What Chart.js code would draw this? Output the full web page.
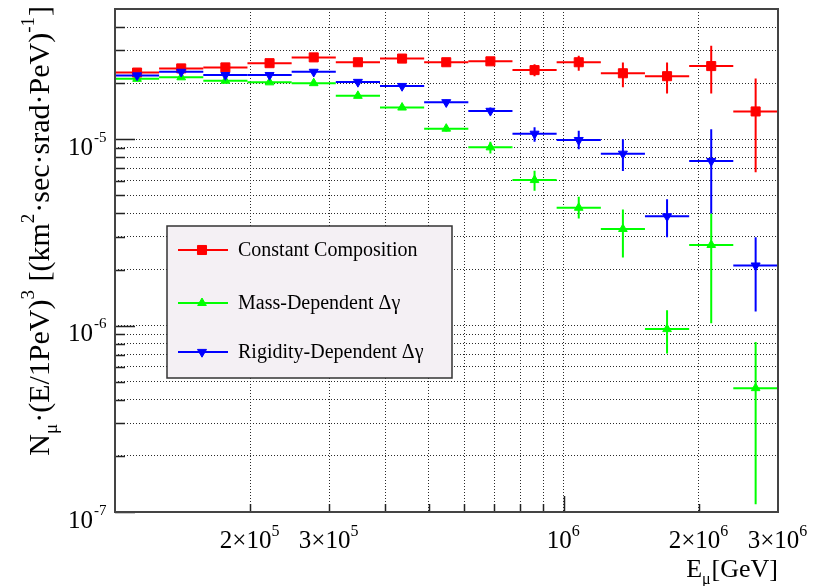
<!DOCTYPE html>
<html>
<head>
<meta charset="utf-8">
<script src="https://cdn.jsdelivr.net/npm/chart.js@4/dist/chart.umd.min.js"></script>
<style>
  html, body { margin: 0; padding: 0; background: #ffffff; }
  #wrap { width: 827px; height: 586px; }
</style>
</head>
<body>
<div id="wrap"><canvas id="c" width="827" height="586"></canvas></div>
<script>
// Muon energy bins [GeV]: 15 equal-width bins in log10(E)
const binEdges = [1.000e5, 1.254e5, 1.573e5, 1.973e5, 2.475e5, 3.104e5, 3.894e5, 4.884e5,
                  6.126e5, 7.683e5, 9.637e5, 1.209e6, 1.516e6, 1.902e6, 2.385e6, 3.000e6];

// N_mu * (E/1PeV)^3 per bin, with lower / upper error bounds
const constantComp     = [2.28e-5, 2.40e-5, 2.43e-5, 2.56e-5, 2.75e-5, 2.59e-5, 2.71e-5, 2.59e-5, 2.62e-5, 2.35e-5, 2.59e-5, 2.26e-5, 2.18e-5, 2.47e-5, 1.41e-5];
const constantCompLow  = [2.25e-5, 2.37e-5, 2.39e-5, 2.51e-5, 2.70e-5, 2.54e-5, 2.65e-5, 2.52e-5, 2.53e-5, 2.18e-5, 2.33e-5, 1.90e-5, 1.76e-5, 1.76e-5, 6.65e-6];
const constantCompHigh = [2.31e-5, 2.43e-5, 2.47e-5, 2.61e-5, 2.80e-5, 2.64e-5, 2.77e-5, 2.66e-5, 2.71e-5, 2.53e-5, 2.81e-5, 2.58e-5, 2.58e-5, 3.18e-5, 2.12e-5];

const massDep     = [2.11e-5, 2.15e-5, 2.06e-5, 2.02e-5, 2.00e-5, 1.71e-5, 1.48e-5, 1.14e-5, 9.05e-6, 6.04e-6, 4.29e-6, 3.30e-6, 9.58e-7, 2.71e-6, 4.62e-7];
const massDepLow  = [2.09e-5, 2.13e-5, 2.03e-5, 1.99e-5, 1.96e-5, 1.67e-5, 1.44e-5, 1.10e-5, 8.40e-6, 5.29e-6, 3.76e-6, 2.32e-6, 7.09e-7, 1.03e-6, 1.10e-7];
const massDepHigh = [2.13e-5, 2.17e-5, 2.09e-5, 2.05e-5, 2.04e-5, 1.75e-5, 1.52e-5, 1.18e-5, 9.70e-6, 6.78e-6, 4.91e-6, 4.20e-6, 1.21e-6, 4.00e-6, 8.16e-7];

const rigidityDep     = [2.20e-5, 2.30e-5, 2.21e-5, 2.21e-5, 2.30e-5, 2.03e-5, 1.93e-5, 1.58e-5, 1.42e-5, 1.07e-5, 9.90e-6, 8.36e-6, 3.86e-6, 7.64e-6, 2.10e-6];
const rigidityDepLow  = [2.18e-5, 2.28e-5, 2.18e-5, 2.18e-5, 2.26e-5, 1.99e-5, 1.89e-5, 1.53e-5, 1.36e-5, 9.70e-6, 8.83e-6, 6.75e-6, 2.98e-6, 4.00e-6, 1.19e-6];
const rigidityDepHigh = [2.22e-5, 2.32e-5, 2.24e-5, 2.24e-5, 2.34e-5, 2.07e-5, 1.97e-5, 1.63e-5, 1.48e-5, 1.16e-5, 1.11e-5, 9.99e-6, 4.76e-6, 1.13e-5, 2.98e-6];

const seriesLabels = ['Constant Composition', 'Mass-Dependent \u0394\u03b3', 'Rigidity-Dependent \u0394\u03b3'];

// Axis ranges and labelled ticks
const xRange = [1e5, 3e6];
const yRange = [1e-7, 5e-5];
const xLabelValues = [2e5, 3e5, 1e6, 2e6, 3e6];
const xLabelText   = [['2\u00d710', '5'], ['3\u00d710', '5'], ['10', '6'], ['2\u00d710', '6'], ['3\u00d710', '6']];
const yLabelValues = [1e-7, 1e-6, 1e-5];
const yLabelText   = [['10', '-7'], ['10', '-6'], ['10', '-5']];

const SERIF = "'Liberation Serif', 'Times New Roman', serif";

// 1..9 x 10^n ticks strictly inside a log range
function logTicks(min, max) {
  const out = [];
  for (let e = Math.floor(Math.log10(min)); e <= Math.ceil(Math.log10(max)); e++) {
    for (let m = 1; m <= 9; m++) {
      const v = parseFloat((m * Math.pow(10, e)).toPrecision(6));
      if (v > min * 1.0001 && v < max * 0.9999) out.push(v);
    }
  }
  return out;
}
function isDecade(v) {
  const l = Math.log10(v);
  return Math.abs(l - Math.round(l)) < 1e-6;
}

const binCenters = binEdges.slice(0, -1).map((lo, i) => Math.sqrt(lo * binEdges[i + 1]));

function makeSeries(label, values, low, high, color, style, radius, rotation, order) {
  return {
    label: label,
    data: values.map((v, i) => ({ x: binCenters[i], y: v })),
    xLow: binEdges.slice(0, -1),
    xHigh: binEdges.slice(1),
    yLow: low,
    yHigh: high,
    showLine: false,
    borderColor: color,
    backgroundColor: color,
    pointStyle: style,
    pointRadius: radius,
    pointRotation: rotation,
    pointBorderWidth: 1,
    order: order
  };
}

const datasets = [
  makeSeries(seriesLabels[0], constantComp, constantCompLow, constantCompHigh, '#ff0000', 'rect', 6.4, 0, 3),
  makeSeries(seriesLabels[1], massDep, massDepLow, massDepHigh, '#00ff00', 'triangle', 5, 0, 2),
  makeSeries(seriesLabels[2], rigidityDep, rigidityDepLow, rigidityDepHigh, '#0000ff', 'triangle', 5.2, 180, 1)
];

// Bin-width (horizontal) and uncertainty (vertical) bars, drawn under each series' markers
const errorBars = {
  id: 'errorBars',
  beforeDatasetDraw(chart, args) {
    const ds = chart.data.datasets[args.index];
    const xs = chart.scales.x, ys = chart.scales.y;
    const a = chart.chartArea, ctx = chart.ctx;
    ctx.save();
    ctx.beginPath();
    ctx.rect(a.left, a.top, a.right - a.left, a.bottom - a.top);
    ctx.clip();
    ctx.strokeStyle = ds.borderColor;
    ctx.lineWidth = 2;
    ds.data.forEach((p, i) => {
      const x = xs.getPixelForValue(p.x), y = ys.getPixelForValue(p.y);
      ctx.beginPath();
      ctx.moveTo(xs.getPixelForValue(ds.xLow[i]), y);
      ctx.lineTo(xs.getPixelForValue(ds.xHigh[i]), y);
      ctx.moveTo(x, ys.getPixelForValue(ds.yLow[i]));
      ctx.lineTo(x, ys.getPixelForValue(ds.yHigh[i]));
      ctx.stroke();
    });
    ctx.restore();
  }
};

const whiteBackground = {
  id: 'whiteBackground',
  beforeDraw(chart) {
    const ctx = chart.ctx;
    ctx.save();
    ctx.fillStyle = '#ffffff';
    ctx.fillRect(0, 0, chart.width, chart.height);
    ctx.restore();
  }
};

function drawMarker(ctx, style, x, y, r, rot) {
  ctx.beginPath();
  if (style === 'rect') {
    const s = Math.SQRT1_2 * r;
    ctx.rect(x - s, y - s, 2 * s, 2 * s);
  } else {
    let rad = rot * Math.PI / 180;
    for (let k = 0; k < 3; k++) {
      const px = x + Math.sin(rad) * r, py = y - Math.cos(rad) * r;
      if (k === 0) ctx.moveTo(px, py); else ctx.lineTo(px, py);
      rad += 2 * Math.PI / 3;
    }
    ctx.closePath();
  }
  ctx.fill();
  ctx.stroke();
}

// Rich text: segments [{t, sub?, sup?}] drawn from (x, y) baseline; returns width if measureOnly
function richText(ctx, segs, x, y, size, measureOnly) {
  let w = 0;
  segs.forEach(s => {
    const small = s.sub || s.sup;
    ctx.font = (small ? Math.round(size * 0.62) : size) + 'px ' + SERIF;
    const dy = s.sup ? -size * 0.5 : (s.sub ? size * 0.28 : 0);
    if (!measureOnly) ctx.fillText(s.t, x + w, y + dy);
    w += ctx.measureText(s.t).width + (small ? 1 : 0);
  });
  return w;
}

// Frame, inward ticks, exponent tick labels, axis titles and legend
const axesDecor = {
  id: 'axesDecor',
  afterDraw(chart) {
    const ctx = chart.ctx, a = chart.chartArea;
    const xs = chart.scales.x, ys = chart.scales.y;
    ctx.save();

    // tick marks
    ctx.strokeStyle = '#222';
    ctx.lineWidth = 1.5;
    ctx.beginPath();
    logTicks(yRange[0] / 1.001, yRange[1]).forEach(v => {
      const y = Math.round(ys.getPixelForValue(v)) + 0.5;
      const len = isDecade(v) ? 20 : 10;
      ctx.moveTo(a.left, y); ctx.lineTo(a.left + len, y);
    });
    logTicks(xRange[0], xRange[1]).forEach(v => {
      const x = Math.round(xs.getPixelForValue(v)) + 0.5;
      const len = isDecade(v) ? 16 : 8;
      ctx.moveTo(x, a.bottom); ctx.lineTo(x, a.bottom - len);
    });
    ctx.stroke();

    // frame
    ctx.strokeStyle = '#444';
    ctx.lineWidth = 2;
    ctx.strokeRect(a.left, a.top, a.right - a.left, a.bottom - a.top);

    // tick labels
    ctx.fillStyle = '#000';
    ctx.textBaseline = 'alphabetic';
    ctx.textAlign = 'left';
    yLabelValues.forEach((v, i) => {
      const y = ys.getPixelForValue(v) + 15.5;
      ctx.font = '25px ' + SERIF;
      const wBase = ctx.measureText(yLabelText[i][0]).width;
      ctx.fillText(yLabelText[i][0], 93 - wBase, y);
      ctx.font = '15px ' + SERIF;
      ctx.fillText(yLabelText[i][1], 94, y - 13);
    });
    xLabelValues.forEach((v, i) => {
      const segs = [{ t: xLabelText[i][0] }, { t: xLabelText[i][1], sup: true }];
      const w = richText(ctx, segs, 0, 0, 25, true);
      richText(ctx, segs, xs.getPixelForValue(v) - w / 2, 548, 25, false);
    });

    // x-axis title, right-aligned to the axis end
    const xTitle = [{ t: 'E' }, { t: '\u03bc', sub: true }, { t: '[GeV]' }];
    const wx = richText(ctx, xTitle, 0, 0, 26, true);
    richText(ctx, xTitle, a.right - wx, 577, 26, false);

    // y-axis title, rotated and aligned to the top of the axis
    const yTitle = [{ t: 'N' }, { t: '\u03bc', sub: true }, { t: '\u00b7(E/1PeV)' }, { t: '3', sup: true },
                    { t: ' [(km' }, { t: '2', sup: true }, { t: '\u00b7sec\u00b7srad\u00b7PeV)' },
                    { t: '-1', sup: true }, { t: ']' }];
    const wy = richText(ctx, yTitle, 0, 0, 30, true);
    ctx.save();
    ctx.translate(49, a.top - 3);
    ctx.rotate(-Math.PI / 2);
    richText(ctx, yTitle, -wy, 0, 30, false);
    ctx.restore();

    // legend
    const box = { x: 167, y: 226, w: 285, h: 152 };
    ctx.fillStyle = '#f4f0f4';
    ctx.fillRect(box.x, box.y, box.w, box.h);
    ctx.strokeStyle = '#333';
    ctx.lineWidth = 1.5;
    ctx.strokeRect(box.x, box.y, box.w, box.h);
    const rowY = [250, 303, 352];
    chart.data.datasets.forEach((ds, i) => {
      const y = rowY[i];
      ctx.strokeStyle = ds.borderColor;
      ctx.fillStyle = ds.backgroundColor;
      ctx.lineWidth = 2;
      ctx.beginPath(); ctx.moveTo(178, y); ctx.lineTo(228, y); ctx.stroke();
      ctx.lineWidth = 1;
      drawMarker(ctx, ds.pointStyle, 202, y, ds.pointRadius, ds.pointRotation);
      ctx.fillStyle = '#000';
      ctx.font = '20px ' + SERIF;
      ctx.textBaseline = 'middle';
      ctx.fillText(ds.label, 238, y + 1);
      ctx.textBaseline = 'alphabetic';
    });

    ctx.restore();
  }
};

const gridStyle = { display: true, drawTicks: false, drawOnChartArea: true, color: '#2a2a2a', lineWidth: 1 };

new Chart(document.getElementById('c'), {
  type: 'scatter',
  data: { datasets: datasets },
  options: {
    responsive: false,
    devicePixelRatio: 1,
    animation: false,
    events: [],
    layout: { padding: { left: 115, right: 49, top: 9, bottom: 74 } },
    plugins: { legend: { display: false }, tooltip: { enabled: false }, title: { display: false } },
    scales: {
      x: {
        type: 'logarithmic',
        min: xRange[0], max: xRange[1],
        afterBuildTicks: s => { s.ticks = logTicks(xRange[0], xRange[1]).map(v => ({ value: v })); },
        ticks: { display: false },
        grid: gridStyle,
        border: { display: false, dash: [1, 2] },
        title: { display: false }
      },
      y: {
        type: 'logarithmic',
        min: yRange[0], max: yRange[1],
        afterBuildTicks: s => { s.ticks = logTicks(yRange[0], yRange[1]).map(v => ({ value: v })); },
        ticks: { display: false },
        grid: gridStyle,
        border: { display: false, dash: [1, 2] },
        title: { display: false }
      }
    }
  },
  plugins: [whiteBackground, errorBars, axesDecor]
});
</script>
</body>
</html>
